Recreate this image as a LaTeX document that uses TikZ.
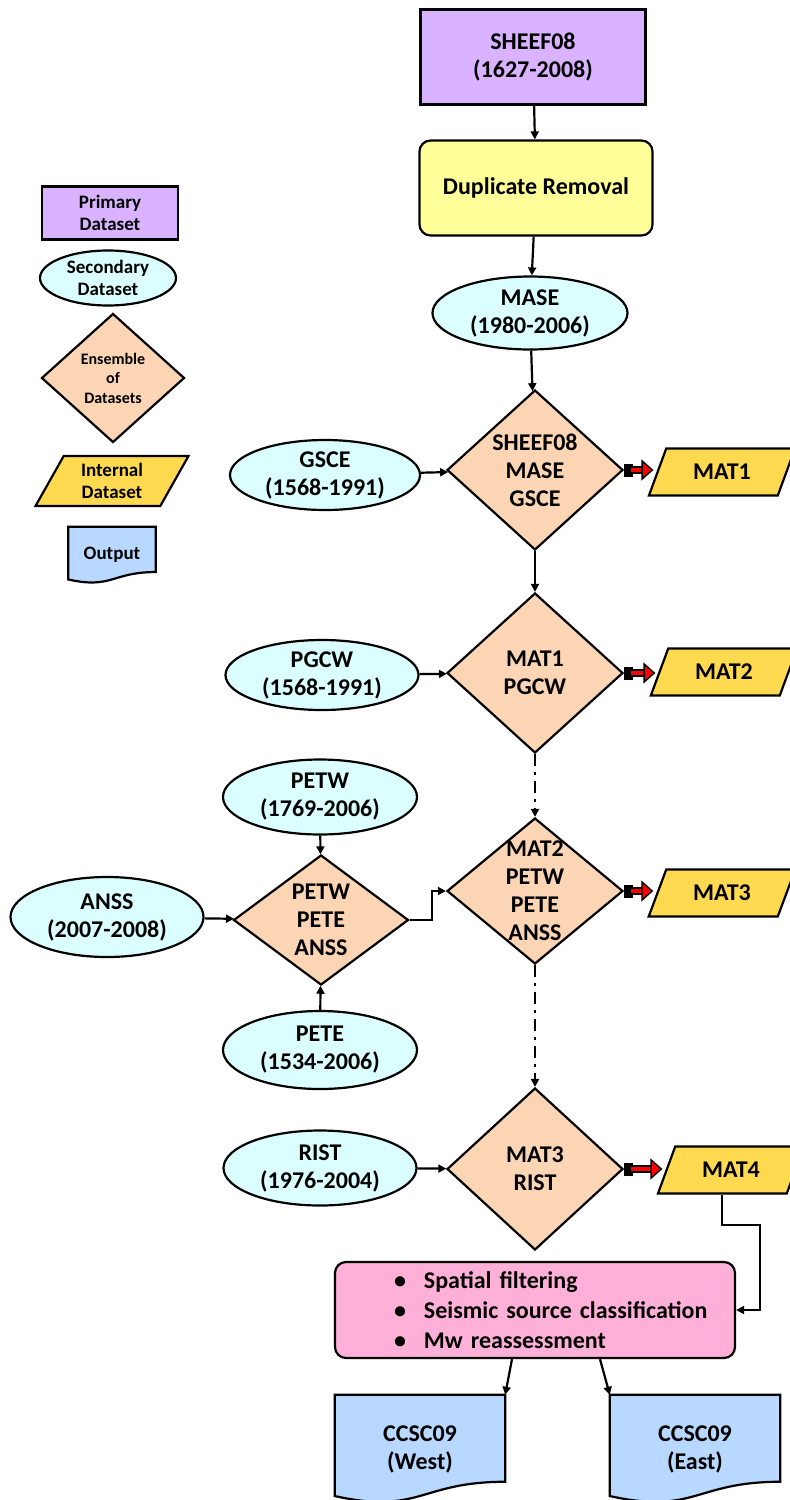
\documentclass[tikz,border=0pt]{standalone}
\usepackage{fontspec}
\setmainfont{Carlito}
\usetikzlibrary{arrows.meta, positioning, calc, shapes.geometric, backgrounds}
\definecolor{primfill}{RGB}{217,179,255}
\definecolor{dupfill}{RGB}{255,255,153}
\definecolor{secfill}{RGB}{219,255,255}
\definecolor{ensfill}{RGB}{252,213,180}
\definecolor{intfill}{RGB}{255,217,80}
\definecolor{procfill}{RGB}{255,176,216}
\definecolor{outfill}{RGB}{185,216,255}

\tikzset{
  every node/.style={font=\bfseries\fontsize{24}{28}\selectfont, align=center},
  box/.style={draw, line width=2.2pt, inner sep=2pt},
  small/.style={font=\bfseries\fontsize{19}{22}\selectfont},
  primary/.style={box, rectangle, fill=primfill},
  process/.style={box, rectangle, rounded corners=11pt},
  secondary/.style={box, ellipse, fill=secfill, inner sep=-8pt},
  ensemble/.style={box, diamond, fill=ensfill, inner sep=-30pt},
  internal/.style={box, trapezium, trapezium left angle=64, trapezium right angle=116,
    trapezium stretches=true, fill=intfill, minimum width=147pt, minimum height=47pt},
  output/.style={rectangle, inner sep=0pt},
  link/.style={line width=2.2pt, -{Triangle[length=8pt,width=8pt]}},
  gap/.style={link, dash pattern=on 12pt off 6pt on 3pt off 6pt},
  feed/.style={draw=red, line width=4.5pt, shorten >=3pt,
    -{Triangle[length=12pt,width=21pt,fill=red,color=black,line width=1.4pt]},
    preaction={draw=black, line width=7.5pt, -, shorten >=14pt}},
}

% document shape with wavy bottom
\newcommand{\docshape}[2]{%
  \filldraw[fill=#2, line width=2.2pt] (#1.north west) -- (#1.north east)
    -- ($(#1.south east)!0.198!(#1.north east)$)
    .. controls ($(#1.south)!0.198!(#1.north)$) and ($(#1.south)!-0.107!(#1.north)$)
    .. ($(#1.south west)!0.066!(#1.north west)$) -- cycle;}
% red block arrow to an internal dataset
\newcommand{\feedarrow}[2]{%
  \fill ([yshift=6.5pt]#1.east) rectangle ([xshift=9pt,yshift=-6.5pt]#1.east);
  \draw[feed] ([xshift=7pt]#1.east) -- (#1.east -| #2.west);}
\newcommand{\bitem}{\hspace*{44pt}\textbullet\hspace{18pt}}

\begin{document}
\begin{tikzpicture}[x=1pt, y=-1pt]
  \useasboundingbox (0,0) rectangle (790,1500);

  % legend
  \node[primary, small, minimum width=136pt, minimum height=53pt] (lprim) at (110,213) {Primary\\Dataset};
  \node[secondary, small, minimum width=136pt, minimum height=55pt] (lsec) at (108,278) {Secondary\\Dataset};
  \node[ensemble, font=\bfseries\fontsize{16}{19.5}\selectfont, minimum width=143pt, minimum height=129pt] (lens) at (113,378) {Ensemble\\of\\Datasets};
  \node[internal, small, minimum width=153pt, minimum height=50pt] (lint) at (112,481) {Internal\\Dataset};
  \node[output, small, minimum width=87pt, minimum height=56pt] (lout) at (112,555) {Output};

  % main chain
  \node[primary, minimum width=225pt, minimum height=95pt] (sheef) at (533,57) {SHEEF08\\(1627-2008)};
  \node[process, fill=dupfill, minimum width=233pt, minimum height=95pt] (dup) at (536,188) {Duplicate Removal};
  \node[secondary, minimum width=195pt, minimum height=73pt] (mase) at (530,313) {MASE\\(1980-2006)};

  \node[ensemble, minimum width=176pt, minimum height=160pt] (ens1) at (535,470) {SHEEF08\\MASE\\GSCE};
  \node[secondary, minimum width=190pt, minimum height=70pt] (gsce) at (325,475) {GSCE\\(1568-1991)};
  \node[internal] (mat1) at (722,472) {MAT1};

  \node[ensemble, minimum width=176pt, minimum height=160pt] (ens2) at (535,673) {MAT1\\PGCW};
  \node[secondary, minimum width=193pt, minimum height=70pt] (pgcw) at (322,675) {PGCW\\(1568-1991)};
  \node[internal] (mat2) at (724,672) {MAT2};

  \node[ensemble, minimum width=176pt, minimum height=146pt] (ens3) at (535,891) {MAT2\\PETW\\PETE\\ANSS};
  \node[internal] (mat3) at (722,893) {MAT3};
  \node[ensemble, minimum width=175pt, minimum height=130pt] (ensw) at (321,920) {PETW\\PETE\\ANSS};
  \node[secondary, minimum width=194pt, minimum height=75pt] (petw) at (320,797) {PETW\\(1769-2006)};
  \node[secondary, minimum width=193pt, minimum height=80pt] (anss) at (107,917) {ANSS\\(2007-2008)};
  \node[secondary, minimum width=194pt, minimum height=78pt] (pete) at (320,1050) {PETE\\(1534-2006)};

  \node[ensemble, minimum width=176pt, minimum height=162pt] (ens4) at (535,1169) {MAT3\\RIST};
  \node[secondary, minimum width=193pt, minimum height=75pt] (rist) at (320,1168) {RIST\\(1976-2004)};
  \node[internal] (mat4) at (731,1170) {MAT4};

  \node[process, fill=procfill, minimum width=400pt, minimum height=96pt, align=left, text width=370pt,
    font=\bfseries\fontsize{24}{30}\selectfont] (proc) at (535,1310)
    {\bitem Spatial filtering\\ \bitem Seismic source classification\\ \bitem Mw reassessment};
  \node[output, minimum width=170pt, minimum height=108pt] (west) at (420,1449) {CCSC09\\(West)};
  \node[output, minimum width=170pt, minimum height=108pt] (east) at (695,1449) {CCSC09\\(East)};

  \begin{scope}[on background layer]
    \docshape{lout}{outfill}
    \docshape{west}{outfill}
    \docshape{east}{outfill}
  \end{scope}

  % connectors
  \draw[link] (sheef) -- (dup);
  \draw[link] (dup) -- (mase);
  \draw[link] (mase) -- (ens1);
  \draw[link] (gsce) -- (ens1);
  \draw[link] (ens1) -- (ens2);
  \draw[link] (pgcw) -- (ens2);
  \draw[gap] (ens2) -- (ens3);
  \draw[link] (petw) -- (ensw);
  \draw[link] (pete) -- (ensw);
  \draw[link] (anss) -- (ensw);
  \draw[link] (ensw.east) -- ++(22,0) |- (ens3.west);
  \draw[gap] (ens3) -- (ens4);
  \draw[link] (rist) -- (ens4);
  \coordinate (turn) at (760,1225);
  \draw[link] (mat4.bottom side) |- (turn) |- (proc.east);
  \draw[link] ($(proc.south)+(-23,0)$) -- (west.north east);
  \draw[link] ($(proc.south)+(65,0)$) -- (east.north west);

  \feedarrow{ens1}{mat1}
  \feedarrow{ens2}{mat2}
  \feedarrow{ens3}{mat3}
  \feedarrow{ens4}{mat4}
\end{tikzpicture}
\end{document}
